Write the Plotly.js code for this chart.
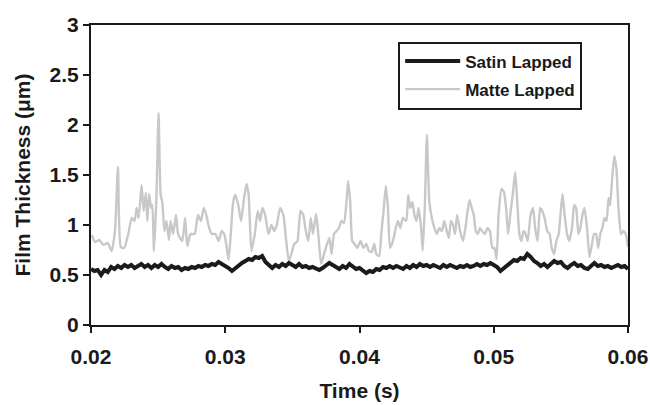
<!DOCTYPE html>
<html>
<head>
<meta charset="utf-8">
<script src="https://cdn.plot.ly/plotly-3.0.1.min.js"></script>
<style>html,body{margin:0;padding:0;background:#fff;}#chart{width:650px;height:405px;}</style>
</head>
<body>
<div id="chart"></div>
<script>
// Time in milliseconds (converted to seconds for plotting)
var matteTimeMs = [20.06,20.31,20.62,20.93,21.24,21.54,21.79,22.01,22.22,22.47,22.78,23.03,23.24,23.40,23.55,23.77,23.92,24.08,24.20,24.32,24.48,24.57,24.69,24.88,25.03,25.19,25.31,25.47,25.62,25.81,25.93,26.12,26.33,26.49,26.80,27.01,27.17,27.41,27.72,27.97,28.19,28.40,28.59,28.80,29.02,29.27,29.51,29.73,29.92,30.07,30.25,30.41,30.59,30.75,30.97,31.18,31.40,31.58,31.74,31.95,32.20,32.42,32.60,32.76,32.97,33.22,33.44,33.65,33.84,34.09,34.33,34.52,34.73,34.92,35.14,35.38,35.60,35.81,36.00,36.19,36.37,36.53,36.77,36.93,37.14,37.36,37.58,37.76,37.92,38.10,38.29,38.47,38.66,38.84,39.03,39.15,39.31,39.46,39.64,39.83,40.08,40.29,40.51,40.70,40.91,41.10,41.25,41.47,41.62,41.81,41.96,42.12,42.27,42.49,42.70,42.86,43.04,43.23,43.48,43.63,43.78,43.94,44.09,44.25,44.40,44.59,44.71,44.86,45.02,45.20,45.39,45.58,45.76,45.95,46.13,46.32,46.50,46.66,46.81,46.97,47.12,47.27,47.49,47.71,47.89,48.05,48.20,48.36,48.51,48.66,48.82,48.97,49.13,49.34,49.53,49.71,49.90,50.05,50.21,50.36,50.58,50.76,50.92,51.07,51.26,51.41,51.60,51.75,51.91,52.06,52.22,52.37,52.53,52.74,52.93,53.08,53.27,53.45,53.61,53.79,53.98,54.16,54.32,54.50,54.66,54.84,54.97,55.12,55.28,55.46,55.62,55.83,55.99,56.14,56.30,56.45,56.61,56.76,56.95,57.13,57.32,57.47,57.62,57.78,57.93,58.09,58.24,58.40,58.55,58.67,58.83,58.98,59.14,59.29,59.48,59.66,59.84,60.00];
var matteThickness = [0.90,0.83,0.85,0.80,0.82,0.74,0.95,1.58,0.78,0.77,0.91,1.07,1.04,1.17,1.07,1.40,1.14,1.32,1.04,1.31,1.17,1.20,0.74,1.30,2.12,1.30,1.23,0.94,1.04,0.85,1.04,0.91,1.10,0.91,0.84,1.07,0.79,0.91,0.91,1.10,1.04,1.17,1.10,0.97,0.91,0.91,0.84,0.94,0.91,0.81,0.65,0.91,1.23,1.30,1.20,1.04,1.27,1.41,1.30,0.74,0.91,1.14,1.04,1.17,1.10,0.91,1.00,0.94,1.00,1.17,1.10,0.87,0.64,0.71,0.81,0.84,1.14,1.10,0.94,0.84,1.07,0.91,1.11,0.91,0.61,0.71,0.81,0.87,0.71,0.91,0.94,0.97,1.04,1.02,1.23,1.44,1.23,0.84,0.81,0.77,0.84,0.77,0.81,0.74,0.73,0.81,0.71,0.69,0.91,1.17,1.39,1.17,0.77,0.84,0.97,1.04,0.97,1.07,1.04,1.30,1.17,1.23,1.10,1.04,1.17,0.97,0.74,1.17,1.90,1.23,1.07,0.97,0.91,0.97,0.94,1.04,0.94,0.87,1.04,1.00,0.91,1.10,0.94,0.84,0.97,1.14,1.25,1.17,1.10,0.94,0.91,0.97,0.94,0.91,0.97,0.94,0.77,0.77,0.66,1.10,1.36,1.33,1.17,0.91,1.14,1.30,1.53,1.23,0.91,0.84,0.94,0.91,0.84,1.10,1.17,0.97,0.84,1.17,1.14,1.07,0.94,0.91,0.77,0.71,0.84,0.91,1.10,1.31,1.10,0.91,0.84,0.97,1.20,1.17,0.91,0.97,1.10,1.17,0.97,0.68,0.81,0.91,0.91,0.77,0.91,0.97,1.07,1.04,1.27,1.20,1.49,1.69,1.56,1.17,0.91,0.94,0.91,0.78];

var satinTimeMs = [20.00,20.25,20.50,20.75,21.00,21.25,21.50,21.75,22.00,22.25,22.50,22.75,23.00,23.25,23.50,23.75,24.00,24.25,24.50,24.75,25.00,25.25,25.50,25.75,26.00,26.25,26.50,26.75,27.00,27.25,27.50,27.75,28.00,28.25,28.50,28.75,29.00,29.25,29.50,29.75,30.00,30.25,30.50,30.75,31.00,31.25,31.50,31.75,32.00,32.25,32.50,32.75,33.00,33.25,33.50,33.75,34.00,34.25,34.50,34.75,35.00,35.25,35.50,35.75,36.00,36.25,36.50,36.75,37.00,37.25,37.50,37.75,38.00,38.25,38.50,38.75,39.00,39.25,39.50,39.75,40.00,40.25,40.50,40.75,41.00,41.25,41.50,41.75,42.00,42.25,42.50,42.75,43.00,43.25,43.50,43.75,44.00,44.25,44.50,44.75,45.00,45.25,45.50,45.75,46.00,46.25,46.50,46.75,47.00,47.25,47.50,47.75,48.00,48.25,48.50,48.75,49.00,49.25,49.50,49.75,50.00,50.25,50.50,50.75,51.00,51.25,51.50,51.75,52.00,52.25,52.50,52.75,53.00,53.25,53.50,53.75,54.00,54.25,54.50,54.75,55.00,55.25,55.50,55.75,56.00,56.25,56.50,56.75,57.00,57.25,57.50,57.75,58.00,58.25,58.50,58.75,59.00,59.25,59.50,59.75,60.00];
var satinThickness = [0.56,0.54,0.55,0.50,0.55,0.53,0.58,0.56,0.59,0.57,0.60,0.58,0.60,0.57,0.59,0.61,0.58,0.60,0.57,0.60,0.58,0.61,0.58,0.56,0.59,0.57,0.58,0.55,0.57,0.56,0.58,0.57,0.59,0.58,0.60,0.59,0.61,0.60,0.63,0.61,0.60,0.57,0.54,0.57,0.60,0.62,0.64,0.66,0.65,0.68,0.67,0.69,0.63,0.60,0.57,0.60,0.58,0.61,0.59,0.62,0.60,0.58,0.61,0.58,0.59,0.57,0.58,0.56,0.55,0.57,0.59,0.62,0.60,0.58,0.56,0.59,0.57,0.61,0.58,0.56,0.57,0.55,0.52,0.54,0.53,0.56,0.55,0.58,0.57,0.59,0.57,0.59,0.58,0.56,0.59,0.57,0.60,0.58,0.61,0.59,0.60,0.58,0.60,0.59,0.57,0.60,0.58,0.60,0.59,0.57,0.59,0.58,0.60,0.58,0.59,0.61,0.59,0.61,0.60,0.62,0.60,0.58,0.54,0.57,0.60,0.62,0.65,0.64,0.67,0.66,0.71,0.68,0.64,0.62,0.59,0.61,0.58,0.61,0.64,0.62,0.63,0.59,0.57,0.60,0.62,0.59,0.60,0.57,0.56,0.59,0.62,0.59,0.60,0.58,0.59,0.57,0.58,0.60,0.58,0.59,0.56];

var xTickVals = [0.02, 0.03, 0.04, 0.05, 0.06];
var xTickText = ['0.02', '0.03', '0.04', '0.05', '0.06'];
var yTickVals = [0, 0.5, 1, 1.5, 2, 2.5, 3];
var yTickText = ['0', '0.5', '1', '1.5', '2', '2.5', '3'];

var seriesNames = ['Satin Lapped', 'Matte Lapped'];

function toSeconds(arr) { return arr.map(function (v) { return v / 1000; }); }

var FONT = 'Liberation Sans, Arial, sans-serif';

var matteTrace = {
  x: toSeconds(matteTimeMs), y: matteThickness, type: 'scatter', mode: 'lines',
  name: seriesNames[1], legendgroup: 'b', legendrank: 2,
  line: {color: '#c8c8c8', width: 2.4, shape: 'spline', smoothing: 0.5}
};
var satinTrace = {
  x: toSeconds(satinTimeMs), y: satinThickness, type: 'scatter', mode: 'lines',
  name: seriesNames[0], legendgroup: 'a', legendrank: 1,
  line: {color: '#1b1b1b', width: 4}
};

var layout = {
  width: 650, height: 405,
  margin: {l: 91, r: 22, t: 25, b: 80},
  paper_bgcolor: '#ffffff', plot_bgcolor: '#ffffff',
  font: {family: FONT, color: '#1a1a1a', size: 21, weight: 'bold'},
  showlegend: true,
  legend: {
    x: 0.572, y: 0.945, xanchor: 'left', yanchor: 'top',
    bordercolor: '#1a1a1a', borderwidth: 2, bgcolor: '#ffffff',
    font: {family: FONT, size: 17, weight: 'bold', color: '#1a1a1a'},
    traceorder: 'grouped', tracegroupgap: 3, itemwidth: 55
  },
  xaxis: {
    range: [0.02, 0.06], tickvals: xTickVals, ticktext: xTickText,
    ticks: 'outside', ticklen: 6, tickwidth: 2, tickcolor: '#1a1a1a',
    showline: true, linewidth: 2, linecolor: '#1a1a1a', mirror: true,
    showgrid: false, zeroline: false, ticklabelstandoff: 6,
    tickfont: {family: FONT, size: 21, weight: 'bold'},
    title: {text: 'Time (s)', font: {family: FONT, size: 21, weight: 'bold'}, standoff: 16},
    automargin: false
  },
  yaxis: {
    range: [0, 3], tickvals: yTickVals, ticktext: yTickText,
    ticks: 'outside', ticklen: 6, tickwidth: 2, tickcolor: '#1a1a1a',
    showline: true, linewidth: 2, linecolor: '#1a1a1a', mirror: true,
    showgrid: false, zeroline: false,
    tickfont: {family: FONT, size: 21, weight: 'bold'},
    title: {text: 'Film Thickness (μm)', font: {family: FONT, size: 21, weight: 'bold'}, standoff: 13},
    automargin: false
  }
};

Plotly.newPlot('chart', [matteTrace, satinTrace], layout, {displayModeBar: false, staticPlot: true});
</script>
</body>
</html>
